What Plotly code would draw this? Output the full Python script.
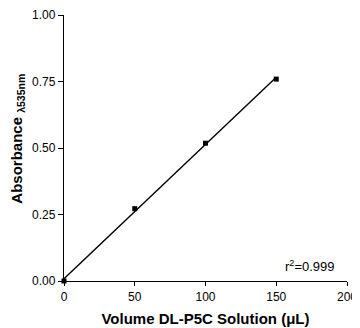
import numpy as np
import plotly.graph_objects as go

volume = [0, 50, 100, 150]
absorbance = [0.0, 0.272, 0.518, 0.759]
x_ticks = [0, 50, 100, 150, 200]
y_ticks = [0.0, 0.25, 0.5, 0.75, 1.0]
y_tick_labels = ["0.00", "0.25", "0.50", "0.75", "1.00"]

slope, intercept = np.polyfit(volume, absorbance, 1)
fit_x = [0, 150]
fit_y = [intercept + slope * v for v in fit_x]

fig = go.Figure()
fig.add_trace(go.Scatter(x=fit_x, y=fit_y, mode="lines",
                         line=dict(color="black", width=1.4), cliponaxis=False,
                         showlegend=False))
fig.add_trace(go.Scatter(x=volume, y=absorbance, mode="markers",
                         marker=dict(color="black", size=5, symbol="square"),
                         cliponaxis=False, showlegend=False))

fig.add_annotation(x=155, y=0.02, xref="x", yref="y", text="r<sup>2</sup>=0.999",
                   showarrow=False, xanchor="left", yanchor="bottom",
                   font=dict(family="Liberation Sans, Arial", size=13, color="black"))

# y-axis title as a rotated annotation for exact placement
fig.add_annotation(x=0, y=0.535, xref="paper", yref="paper", xshift=-46,
                   text="<b>Absorbance <sub>λ535nm</sub></b>", textangle=-90,
                   showarrow=False, xanchor="center", yanchor="middle",
                   font=dict(family="Liberation Sans, Arial", size=15, color="black"))

# The page body has an 8px margin, so the figure is sized/offset to compensate.
fig.update_layout(
    width=352, height=320,
    margin=dict(l=56, r=13, t=7, b=47),
    paper_bgcolor="white", plot_bgcolor="white",
    font=dict(family="Liberation Sans, Arial", color="black", size=12),
)
fig.update_xaxes(range=[0, 200], tickvals=x_ticks, showgrid=False, zeroline=False,
                 showline=True, linecolor="black", linewidth=1.4, automargin=False,
                 ticks="outside", ticklen=4, tickcolor="black", tickwidth=1.2,
                 tickfont=dict(size=12), ticklabeloverflow="allow",
                 title=dict(text="<b>Volume DL-P5C Solution (μL)</b>", font=dict(size=15), standoff=10))
fig.update_yaxes(range=[0, 1], tickvals=y_ticks, ticktext=y_tick_labels, showgrid=False,
                 zeroline=False, showline=True, linecolor="black", linewidth=1.4, automargin=False,
                 ticks="outside", ticklen=5, tickcolor="black", tickwidth=1.2,
                 tickfont=dict(size=12), ticklabeloverflow="allow")

fig.write_html("out.html")
